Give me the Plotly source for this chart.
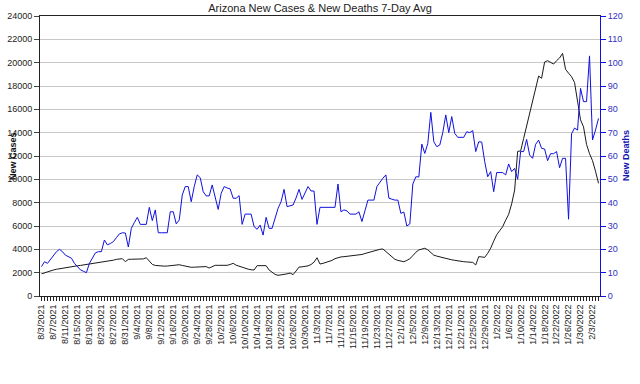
import plotly.graph_objects as go
import pandas as pd

start_date = "2021-08-03"

new_cases = [
    1900, 2000, 2100, 2170, 2230, 2290, 2340, 2390, 2450, 2500,
    2530, 2560, 2590, 2620, 2660, 2700, 2740, 2780, 2820, 2860,
    2890, 2910, 2940, 3000, 3070, 3140, 3170, 3200, 2940, 3140,
    3150, 3170, 3150, 3200, 3180, 3280, 3000, 2710, 2620, 2580,
    2570, 2560, 2570, 2600, 2650, 2710, 2680, 2620, 2560, 2500,
    2460, 2470, 2490, 2500, 2510, 2520, 2400, 2550, 2630, 2630,
    2620, 2640, 2630, 2700, 2800, 2640, 2540, 2450, 2380, 2300,
    2250, 2230, 2600, 2600, 2610, 2600, 2230, 2060, 1850, 1770,
    1800, 1850, 1900, 1970, 1830, 2140, 2480, 2500, 2550, 2580,
    2700, 2900, 3280, 2740, 2800, 2880, 2940, 3050, 3200, 3300,
    3350, 3370, 3400, 3430, 3460, 3490, 3510, 3560, 3640, 3720,
    3800, 3880, 3950, 4000, 4030, 3800, 3600, 3350, 3150, 3050,
    2980, 2940, 3050, 3200, 3450, 3750, 3950, 4050, 4090, 3960,
    3700, 3500, 3420, 3350, 3250, 3200, 3150, 3100, 3060, 3000,
    2970, 2940, 2920, 2900, 2880, 2660, 3370, 3350, 3310, 3660,
    4100, 4700, 5250, 5600, 5940, 6500, 7000, 7900, 9080, 12400,
    12430, 13500, 14600, 15500, 16600, 17700, 18850, 18660, 20050, 20170,
    20050, 19880, 20170, 20400, 20800, 19430, 19100, 18800, 18300, 16600,
    15100, 14500, 13000, 12200, 11600, 10700, 9660,
]

new_deaths = [
    12.6, 14.7, 14.0, 15.5, 17.5, 19.0, 20.0, 19.0, 17.5, 17.0,
    16.2, 14.0, 12.5, 11.2, 10.6, 10.0, 14.0, 16.5, 18.5, 19.0,
    19.0, 24.0, 21.9, 22.5, 23.3, 25.0, 26.6, 27.1, 27.0, 21.0,
    29.0, 31.5, 33.7, 30.7, 30.7, 30.7, 38.0, 32.3, 36.9, 27.1,
    27.1, 27.1, 27.1, 36.1, 36.1, 30.9, 32.6, 43.3, 46.9, 46.9,
    40.4, 46.9, 51.9, 50.7, 44.7, 42.9, 42.9, 47.6, 42.0, 37.1,
    44.0, 46.9, 46.3, 45.9, 41.9, 41.9, 43.0, 30.7, 35.1, 35.1,
    35.1, 29.7, 28.6, 30.4, 26.1, 33.7, 29.0, 29.0, 33.0, 37.6,
    40.4, 45.7, 38.3, 38.6, 39.0, 42.0, 45.7, 41.4, 44.0, 46.9,
    45.0, 45.0, 30.7, 38.0, 38.0, 38.0, 38.0, 38.0, 38.0, 48.0,
    36.1, 36.9, 36.5, 35.1, 35.1, 35.1, 36.1, 31.9, 36.5, 41.1,
    41.1, 41.1, 46.9, 49.0, 50.5, 51.9, 41.9, 41.5, 41.1, 41.1,
    35.4, 36.0, 30.0, 30.9, 48.0, 51.1, 51.0, 65.1, 61.1, 65.4,
    78.7, 66.1, 64.0, 64.7, 70.0, 77.6, 70.0, 76.9, 69.7, 68.0,
    68.0, 68.0, 70.4, 70.0, 70.9, 61.9, 66.1, 66.0, 57.6, 51.1,
    53.3, 44.7, 52.9, 52.9, 52.9, 51.9, 56.6, 53.3, 54.7, 50.0,
    61.9, 61.9, 67.1, 60.4, 59.0, 65.0, 66.8, 63.3, 63.0, 58.0,
    61.0, 61.0, 61.9, 55.0, 59.0, 59.0, 32.9, 69.5, 72.0, 71.1,
    89.0, 83.3, 83.3, 102.9, 66.9, 71.1, 76.1, 65.4,
]

n = min(len(new_cases), len(new_deaths))
dates = pd.date_range(start_date, periods=n, freq="D")
new_cases = new_cases[:n]
new_deaths = new_deaths[:n]

BLUE = "#1010e0"
TICKBLUE = "#3030c0"
FONT = "Liberation Sans, Arial, sans-serif"

fig = go.Figure()
fig.add_trace(go.Scatter(x=dates, y=new_cases, mode="lines",
                         line=dict(color="#1a1a1a", width=1),
                         name="New Cases", yaxis="y"))
fig.add_trace(go.Scatter(x=dates, y=new_deaths, mode="lines",
                         line=dict(color=BLUE, width=1),
                         name="New Deaths", yaxis="y2"))

day_ms = 86400000
x0 = dates[0] - pd.Timedelta(hours=12)
x1 = dates[-1] + pd.Timedelta(hours=12)

fig.update_layout(
    width=640, height=384,
    margin=dict(l=40, r=40, t=16, b=88, autoexpand=False),
    paper_bgcolor="white", plot_bgcolor="white",
    showlegend=False,
    font=dict(family=FONT, size=9, color="#222"),
    title=dict(text="Arizona New Cases & New Deaths 7-Day Avg",
               x=0.5, xanchor="center", y=0.99, yanchor="top",
               font=dict(family=FONT, size=11, color="#222")),
    xaxis=dict(
        type="date", range=[x0, x1], automargin=False,
        tick0=start_date, dtick=4 * day_ms,
        tickformat="%-m/%-d/%Y", tickangle=-90,
        ticks="outside", ticklen=4, tickcolor="#222",
        minor=dict(dtick=day_ms, tick0=start_date, ticks="outside",
                   ticklen=4, tickcolor="#222", showgrid=False),
        showgrid=False, showline=True, linecolor="#222", linewidth=1,
        mirror=True, zeroline=False,
        tickfont=dict(family=FONT, size=9, color="#222"),
    ),
    yaxis=dict(
        range=[0, 24000], dtick=2000, tickformat="d", automargin=False,
        ticks="outside", ticklen=5, tickcolor="#444",
        showgrid=True, gridcolor="#c8c8c8", gridwidth=1,
        showline=True, linecolor="#222", linewidth=1,
        zeroline=False,
        tickfont=dict(family=FONT, size=9, color="#222"),
    ),
    yaxis2=dict(
        range=[0, 120], dtick=10, overlaying="y", side="right",
        automargin=False,
        ticks="outside", ticklen=5, tickcolor=BLUE,
        showgrid=False, showline=True, linecolor=BLUE, linewidth=1,
        zeroline=False,
        tickfont=dict(family=FONT, size=9, color=TICKBLUE),
    ),
    annotations=[
        dict(text="<b>New Cases</b>", xref="paper", yref="paper",
             x=(6 - 40) / 560, y=0.5, textangle=-90, showarrow=False,
             font=dict(family=FONT, size=9, color="#111")),
        dict(text="<b>New Deaths</b>", xref="paper", yref="paper",
             x=(633 - 40) / 560, y=0.5, textangle=-90, showarrow=False,
             font=dict(family=FONT, size=9, color="#1515b0")),
    ],
)

fig.write_html("out.html",
               config={"displayModeBar": False},
               post_script="document.body.style.margin='0';"
                           "document.body.style.padding='0';")
